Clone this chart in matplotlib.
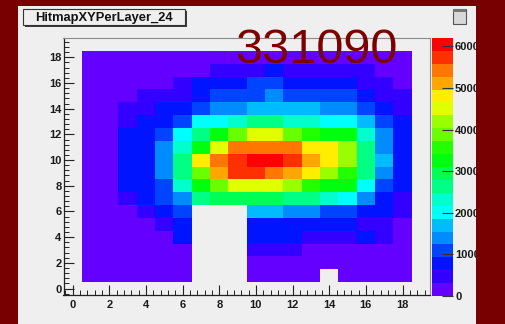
import colorsys
import numpy as np
import matplotlib
matplotlib.use("Agg")
import matplotlib.pyplot as plt
from matplotlib.colors import ListedColormap, BoundaryNorm
from matplotlib.patches import Rectangle
from matplotlib.ticker import MultipleLocator

# ---- data: hit counts per (x, y) cell, rows listed from y=18 down to y=1 ----
x_bins = list(range(1, 19))
y_bins = list(range(1, 19))
hits_rows_top_down = [
    [150, 160, 170, 180, 190, 200, 220, 260, 280, 290, 290, 280, 260, 240, 220, 200, 180, 160],
    [160, 180, 200, 220, 250, 280, 300, 500, 560, 600, 620, 600, 560, 420, 400, 380, 290, 200],
    [170, 190, 210, 240, 280, 450, 700, 850, 900, 950, 950, 920, 900, 800, 750, 600, 420, 280],
    [150, 170, 250, 350, 450, 550, 800, 950, 1150, 1200, 1250, 1200, 1150, 1000, 950, 800, 550, 350],
    [160, 200, 450, 550, 800, 850, 1150, 1400, 1500, 1650, 1700, 1650, 1550, 1400, 1300, 1050, 850, 550],
    [170, 220, 550, 800, 900, 1150, 2000, 2150, 2400, 2650, 2700, 2400, 2300, 2100, 2000, 1750, 1150, 700],
    [180, 250, 700, 850, 1150, 2050, 2700, 3400, 3900, 4450, 4400, 4000, 3700, 3250, 3200, 2300, 1300, 850],
    [170, 240, 750, 900, 1450, 2350, 3400, 4500, 5300, 5400, 5450, 5350, 4900, 4800, 4100, 2500, 1500, 850],
    [160, 230, 750, 900, 1500, 2700, 4700, 5400, 5800, 6100, 6150, 5700, 5050, 4750, 4150, 2700, 1600, 850],
    [150, 220, 700, 880, 1450, 2550, 3900, 5100, 5700, 5750, 5400, 5100, 4800, 4250, 3550, 2500, 1500, 850],
    [150, 210, 650, 850, 1100, 2350, 3250, 3850, 4500, 4550, 4500, 4150, 3550, 3250, 3100, 2050, 1150, 800],
    [140, 200, 450, 800, 1100, 1500, 2500, 2950, 3000, 2950, 2900, 2700, 2600, 2250, 2100, 1500, 850, 500],
    [140, 180, 280, 500, 650, 950, 0, 0, 0, 1650, 1600, 1400, 1350, 1100, 1050, 850, 750, 500],
    [130, 160, 200, 300, 500, 750, 0, 0, 0, 850, 850, 800, 800, 750, 700, 600, 400, 250],
    [120, 150, 180, 220, 290, 650, 0, 0, 0, 700, 680, 650, 500, 480, 450, 620, 320, 230],
    [110, 130, 160, 200, 230, 270, 0, 0, 0, 470, 450, 420, 300, 280, 260, 250, 220, 180],
    [100, 120, 140, 170, 200, 220, 0, 0, 0, 280, 270, 260, 240, 230, 220, 200, 180, 160],
    [90, 110, 130, 150, 170, 190, 0, 0, 0, 230, 220, 210, 200, 0, 190, 170, 150, 130],
]
z_max = 6200
n_contours = 20
x_tick_values = list(range(0, 19, 2))
y_tick_values = list(range(0, 19, 2))
z_tick_values = list(range(0, 6001, 1000))
title_text = "HitmapXYPerLayer_24"
run_text = "331090"

# ---- "pretty" violet->red palette (HLS, L=0.5, S=1), 50 entries ----
palette = []
for i in range(49):
    hue = 280.0 - (i + 1) * (280.0 / 50)
    palette.append(colorsys.hls_to_rgb(hue / 360.0, 0.5, 1.0))
palette.append((1.0, 0.0, 0.0))
band_colors = [palette[int((k + 0.99) * 50 / n_contours)] for k in range(n_contours)]
cmap = ListedColormap(band_colors)
levels = np.linspace(0, z_max, n_contours + 1)
norm = BoundaryNorm(levels, ncolors=n_contours)

W, H = 505, 324
fig = plt.figure(figsize=(W / 100, H / 100), dpi=100, facecolor="#780000")

def fx(px):
    return px / W

def fy(py):
    return 1 - py / H

panel_bg = "#efefef"
fig.patches.append(Rectangle((fx(18), 0), fx(476) - fx(18), fy(6), transform=fig.transFigure,
                             facecolor=panel_bg, edgecolor="none", zorder=-5))

label_font = dict(family="Liberation Sans", weight="bold", size=8)

# ---- main histogram ----
ax_l, ax_r, ax_t, ax_b = 63.5, 430, 38, 295
ax = fig.add_axes([fx(ax_l), fy(ax_b), fx(ax_r) - fx(ax_l), fy(ax_t) - fy(ax_b)])
ax.set_facecolor(panel_bg)

Z = np.array(hits_rows_top_down[::-1], dtype=float)
Z = np.ma.masked_equal(Z, 0)
x_edges = np.array(x_bins + [x_bins[-1] + 1]) - 0.5
y_edges = np.array(y_bins + [y_bins[-1] + 1]) - 0.5
mesh = ax.pcolormesh(x_edges, y_edges, Z, cmap=cmap, norm=norm, antialiased=False,
                     edgecolors="none", shading="flat")

ax.set_xlim(-0.5, 19.5)
ax.set_ylim(-0.5, 19.5)
ax.set_xticks(x_tick_values)
ax.set_yticks(y_tick_values)
ax.xaxis.set_minor_locator(MultipleLocator(0.4))
ax.yaxis.set_minor_locator(MultipleLocator(0.4))
ax.tick_params(which="major", direction="in", length=7, width=0.8, color="#222222",
               top=False, right=False)
ax.tick_params(which="minor", direction="in", length=3.5, width=0.7, color="#222222",
               top=False, right=False)
ax.tick_params(axis="x", which="major", pad=3.5)
ax.tick_params(axis="y", which="major", pad=1.5)
for lab in ax.get_xticklabels() + ax.get_yticklabels():
    lab.set(**label_font, color="#1a1a1a")
for side in ("left", "bottom"):
    ax.spines[side].set_color("#222222")
    ax.spines[side].set_linewidth(0.9)
for side in ("top", "right"):
    ax.spines[side].set_color("#8c8c8c")
    ax.spines[side].set_linewidth(0.8)

# ---- palette axis ----
cax = fig.add_axes([fx(432), fy(296), fx(453) - fx(432), fy(38) - fy(296)])
cb = fig.colorbar(mesh, cax=cax, ticks=z_tick_values)
cb.outline.set_visible(False)
cax.set_ylim(0, z_max)
cax.tick_params(which="major", direction="in", length=8, width=0.8, color="#333333", pad=1.5)
cax.tick_params(which="minor", length=0)
for lab in cax.get_yticklabels():
    lab.set(**label_font, color="#1a1a1a")

# ---- title box with shadow ----
bx0, bx1, by0, by1 = 23, 185, 9, 25
fig.patches.append(Rectangle((fx(bx0) + 1.5 / W, fy(by1) - 1.5 / H), fx(bx1) - fx(bx0), fy(by0) - fy(by1),
                             transform=fig.transFigure, facecolor="#3a3a3a", edgecolor="none", zorder=4))
fig.patches.append(Rectangle((fx(bx0), fy(by1)), fx(bx1) - fx(bx0), fy(by0) - fy(by1),
                             transform=fig.transFigure, facecolor=panel_bg, edgecolor="#333333",
                             linewidth=0.8, zorder=5))
fig.text(fx((bx0 + bx1) / 2), fy((by0 + by1) / 2 + 0.5), title_text, ha="center", va="center",
         family="Liberation Sans", weight="bold", size=9.3, color="#111111", zorder=6)

# ---- small window icon in the corner ----
fig.patches.append(Rectangle((fx(453), fy(24)), fx(466) - fx(453), fy(9) - fy(24),
                             transform=fig.transFigure, facecolor="#d8d8d8", edgecolor="#555555",
                             linewidth=0.8, zorder=5))
fig.patches.append(Rectangle((fx(453), fy(12)), fx(466) - fx(453), fy(9) - fy(12),
                             transform=fig.transFigure, facecolor="#777777", edgecolor="none", zorder=6))

# ---- run number ----
fig.text(fx(235), fy(63), run_text, ha="left", va="baseline", family="Liberation Sans",
         size=35, color="#7d0000", zorder=7)

# right-hand frame covers the overflowing palette labels
fig.patches.append(Rectangle((fx(476), 0), 1 - fx(476), 1, transform=fig.transFigure,
                             facecolor="#780000", edgecolor="none", zorder=20))

fig.savefig("out.png", dpi=100, facecolor=fig.get_facecolor())
